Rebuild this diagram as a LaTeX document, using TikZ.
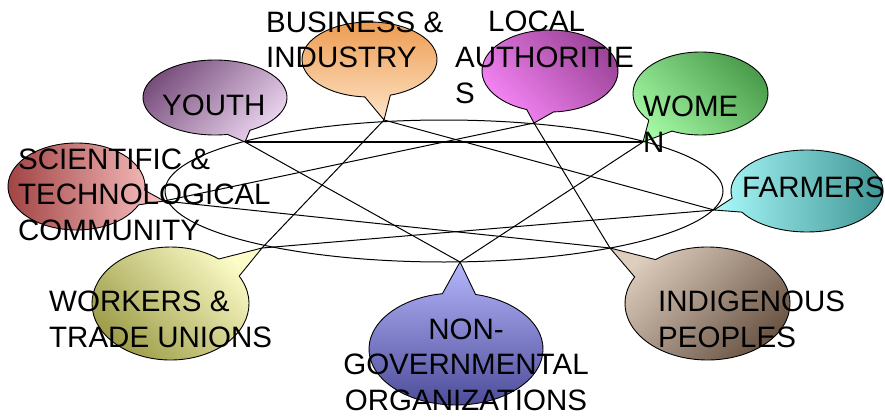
\documentclass[tikz,border=0pt]{standalone}
\usepackage{fontspec}
\setmainfont{Liberation Sans}
\usetikzlibrary{calc,shapes.geometric}
\definecolor{youthD}{RGB}{118,76,122}
\definecolor{youthL}{RGB}{236,214,240}
\definecolor{bizT}{RGB}{236,156,80}
\definecolor{bizB}{RGB}{254,228,200}
\definecolor{locD}{RGB}{150,64,146}
\definecolor{locL}{RGB}{250,136,250}
\definecolor{womD}{RGB}{70,152,70}
\definecolor{womL}{RGB}{164,248,164}
\definecolor{farmL}{RGB}{170,250,250}
\definecolor{farmD}{RGB}{60,146,146}
\definecolor{indL}{RGB}{222,206,190}
\definecolor{indD}{RGB}{100,78,62}
\definecolor{ngoT}{RGB}{182,182,252}
\definecolor{ngoB}{RGB}{72,72,150}
\definecolor{workL}{RGB}{252,252,200}
\definecolor{workD}{RGB}{150,150,64}
\definecolor{sciD}{RGB}{156,60,60}
\definecolor{sciL}{RGB}{252,196,196}
\tikzset{
  bubble/.style={draw=black, line width=0.9pt, line join=round},
  link/.style={draw=black, line width=1pt},
  toplink/.style={draw=black, line width=1.8pt},
  lbl/.style={font=\fontsize{29.5}{35.5}\selectfont, inner sep=0pt, align=left, text=black},
  clbl/.style={font=\fontsize{29.5}{35.5}\selectfont, inner sep=0pt, align=center, text=black}
}
\begin{document}
\begin{tikzpicture}[x=1pt,y=-1pt]
\useasboundingbox (0,0) rectangle (885,417);
% tips of the callouts
\coordinate (tYouth) at (245,142);
\coordinate (tBiz)   at (384,120);
\coordinate (tLocal) at (534,123);
\coordinate (tWomen) at (643,142);
\coordinate (tFarm)  at (714,210);
\coordinate (tIndig) at (610,248);
\coordinate (tNGO)   at (460,262);
\coordinate (tWork)  at (262,248);
\coordinate (tSci)   at (164,201);
% callout bubbles
\path[bubble, top color=youthD, bottom color=youthL, shading angle=45]
  ($(215,97.5)+(80:72 and 37.5)$) arc[start angle=80, end angle=421, x radius=72, y radius=37.5] -- (tYouth) -- cycle;
\path[bubble, top color=bizT, bottom color=bizB]
  ($(369.5,59.5)+(94:67.5 and 37.5)$) arc[start angle=94, end angle=432, x radius=67.5, y radius=37.5] -- (tBiz) -- cycle;
\path[bubble, top color=locD, bottom color=locL, shading angle=-45]
  ($(550,71)+(110:68 and 41)$) arc[start angle=110, end angle=447, x radius=68, y radius=41] -- (tLocal) -- cycle;
\path[bubble, top color=womD, bottom color=womL, shading angle=-45]
  ($(700.5,93.5)+(140:67.5 and 41.5)$) arc[start angle=140, end angle=475, x radius=67.5, y radius=41.5] -- (tWomen) -- cycle;
\path[bubble, left color=farmL, right color=farmD]
  ($(807,191)+(170:76 and 41)$) arc[start angle=170, end angle=509, x radius=76, y radius=41] -- (tFarm) -- cycle;
\path[bubble, top color=indL, bottom color=indD, shading angle=45]
  ($(707.5,303.5)+(231:82.5 and 56.5)$) arc[start angle=231, end angle=568, x radius=82.5, y radius=56.5] -- (tIndig) -- cycle;
\path[bubble, top color=ngoT, bottom color=ngoB]
  ($(456,349)+(283:87 and 56)$) arc[start angle=283, end angle=621, x radius=87, y radius=56] -- (tNGO) -- cycle;
\path[bubble, top color=workL, bottom color=workD, shading angle=-45]
  ($(170.5,303.5)+(331:78.5 and 56.5)$) arc[start angle=331, end angle=668, x radius=78.5, y radius=56.5] -- (tWork) -- cycle;
\path[bubble, left color=sciD, right color=sciL]
  ($(76.5,186.5)+(25:68.5 and 43.5)$) arc[start angle=25, end angle=365, x radius=68.5, y radius=43.5] -- (tSci) -- cycle;
% ring
\node[draw=black, line width=1pt, ellipse, inner sep=0pt, minimum width=558pt, minimum height=142pt] (ring) at (444,191) {};
% star links
\draw[toplink] (tYouth) -- (tWomen);
\draw[link] (tYouth) -- (tNGO);
\draw[link] (tWomen) -- (tNGO);
\draw[link] (tBiz) -- (tFarm);
\draw[link] (tBiz) -- (tWork);
\draw[link] (tFarm) -- (tWork);
\draw[link] (tLocal) -- (tSci);
\draw[link] (tLocal) -- (tIndig);
\draw[link] (tIndig) -- (tSci);
% labels (base anchor = baseline of the last line)
\node[lbl, anchor=base west] (lYouth) at (162,115) {YOUTH};
\node[lbl, anchor=base west] (lBiz) at (266,68) {BUSINESS \&\\INDUSTRY};
\node[lbl, anchor=base west] (lLocal) at (455,103) {\hspace*{33pt}LOCAL\\AUTHORITIE\\S};
\node[lbl, anchor=base west] (lWomen) at (643,152) {WOME\\N};
\node[lbl, anchor=base west] (lFarm) at (742,197) {FARMERS};
\node[lbl, anchor=base west] (lSci) at (18,240) {SCIENTIFIC \&\\TECHNOLOGICAL\\COMMUNITY};
\node[lbl, anchor=base west] (lWork) at (49,347) {WORKERS \&\\TRADE UNIONS};
\node[lbl, anchor=base west] (lIndig) at (658,347) {INDIGENOUS\\PEOPLES};
\node[clbl, anchor=base] (lNGO) at (466,410) {NON-\\GOVERNMENTAL\\ORGANIZATIONS};
\end{tikzpicture}
\end{document}
